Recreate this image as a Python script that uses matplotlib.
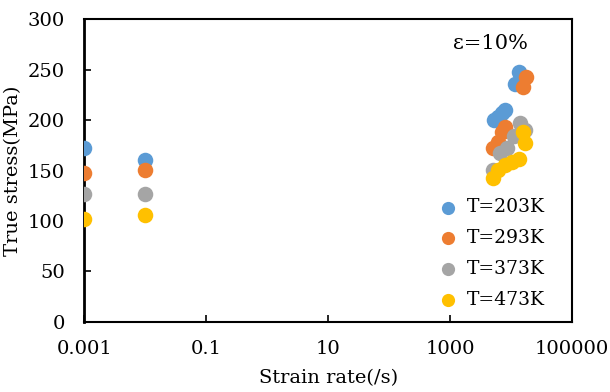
import matplotlib
matplotlib.use("Agg")
import matplotlib.pyplot as plt

plt.rcParams['font.family'] = ['DejaVu Serif']

# strain rate (/s) and true stress (MPa) at strain 10%
labels = ['T=203K', 'T=293K', 'T=373K', 'T=473K']
colors = ['#5b9bd5', '#ed7d31', '#a5a5a5', '#ffc000']

rate_203 = [0.001, 0.01, 5200, 6000, 7000, 7800, 11500, 13500]
stress_203 = [172, 160, 200, 203, 207, 210, 236, 248]

rate_293 = [0.001, 0.01, 5000, 6000, 7200, 8000, 15500, 17500]
stress_293 = [148, 151, 172, 178, 188, 193, 233, 243]

rate_373 = [0.001, 0.01, 5000, 6500, 8500, 11000, 14000, 17000]
stress_373 = [127, 127, 151, 167, 172, 184, 197, 190]

rate_473 = [0.001, 0.01, 5000, 6000, 8000, 10500, 13500, 15500, 17000]
stress_473 = [102, 106, 143, 151, 155, 158, 161, 188, 177]

rates = [rate_203, rate_293, rate_373, rate_473]
stresses = [stress_203, stress_293, stress_373, stress_473]

fig = plt.figure(figsize=(6.1, 3.92), dpi=100)
ax = fig.add_axes([0.138, 0.179, 0.800, 0.772])

for r, s, c, l in zip(rates, stresses, colors, labels):
    ax.scatter(r, s, s=125, color=c, label=l, linewidths=0, zorder=3)

ax.set_xscale('log')
ax.set_xlim(0.001, 100000)
ax.set_ylim(0, 300)
ax.set_xticks([0.001, 0.1, 10, 1000, 100000])
ax.set_xticklabels(['0.001', '0.1', '10', '1000', '100000'])
ax.xaxis.set_minor_locator(matplotlib.ticker.NullLocator())
ax.set_yticks(range(0, 301, 50))
ax.tick_params(direction='in', length=5, width=1.2, labelsize=14)
ax.tick_params(axis='x', pad=13)
ax.tick_params(axis='y', pad=14)

for sp in ax.spines.values():
    sp.set_linewidth(1.5)
ax.spines['left'].set_linewidth(2)

ax.set_xlabel('Strain rate(/s)', fontsize=14, labelpad=8)
ax.set_ylabel('True stress(MPa)', fontsize=14, labelpad=4)

ax.text(0.755, 0.92, 'ε=10%', transform=ax.transAxes, fontsize=15, va='center')

ax.legend(loc='lower right', bbox_to_anchor=(0.97, 0.0), frameon=False,
          fontsize=13.5, handletextpad=0.0, markerscale=0.85,
          labelspacing=0.68, borderaxespad=0.5, borderpad=0.2)

fig.savefig('out.png', dpi=100)
